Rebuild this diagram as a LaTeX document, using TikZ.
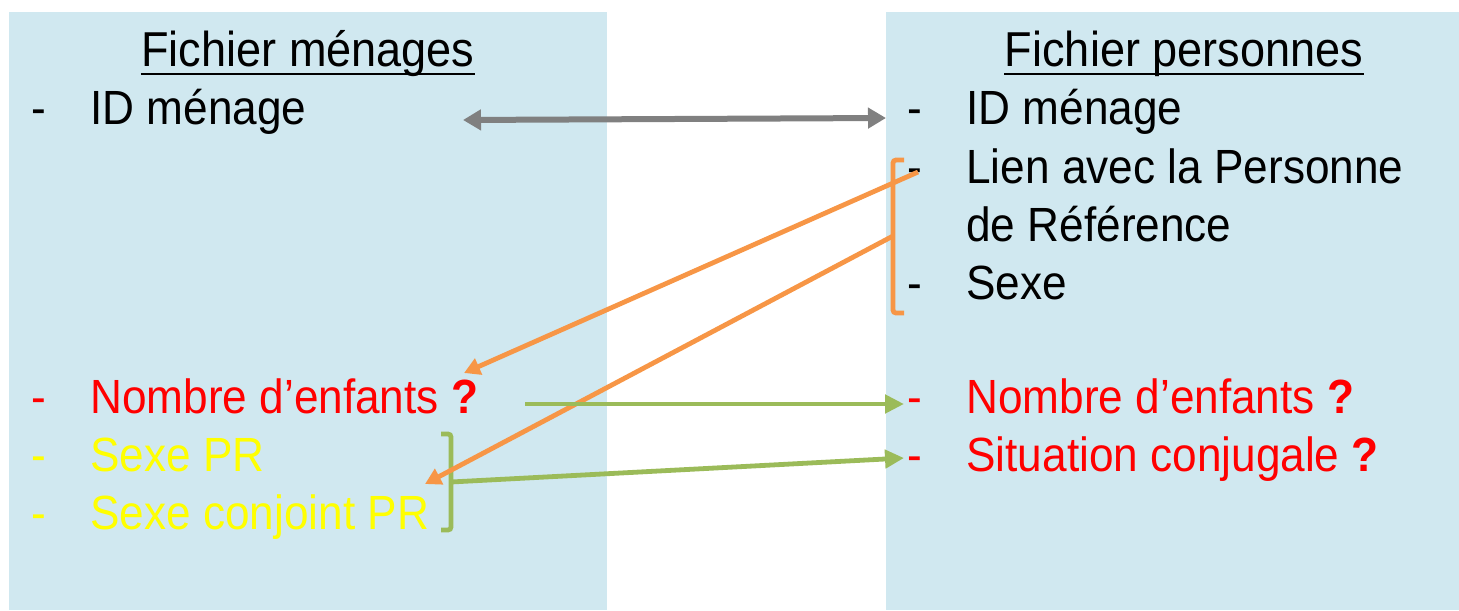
\documentclass[tikz,border=0pt]{standalone}
\usepackage{fontspec}
\setmainfont{Liberation Sans}[FakeStretch=0.92]
\usetikzlibrary{arrows.meta}
\definecolor{panel}{RGB}{208,232,240}
\definecolor{orng}{RGB}{247,150,70}
\definecolor{grn}{RGB}{155,187,89}
\definecolor{gry}{RGB}{128,128,128}
\definecolor{myred}{RGB}{255,0,0}
\definecolor{myyellow}{RGB}{255,255,0}
\begin{document}
\begin{tikzpicture}[x=0.5pt,y=-0.5pt,
  txt/.style={anchor=base west,inner sep=0pt,font=\fontsize{24}{28}\selectfont},
  ttl/.style={anchor=base,inner sep=0pt,font=\fontsize{24.5}{28}\selectfont},
  grayarrow/.style={gry,line width=3pt,{Triangle[length=9pt,width=10pt]}-{Triangle[length=9pt,width=10pt]}},
  orangearrow/.style={orng,line width=2.4pt,-{Triangle[length=8pt,width=8.5pt]}},
  greenarrow/.style={grn,line width=2.4pt,-{Triangle[length=9.5pt,width=9pt]}},
  brack/.style={line width=2.4pt,rounded corners=1.5pt}]
\useasboundingbox (0,0) rectangle (1459,610);
\fill[panel] (9,12) rectangle (607,610);
\fill[panel] (886,12) rectangle (1459,610);

% titles
\node[ttl] (tL) at (308,67) {Fichier ménages};
\node[ttl] (tR) at (1184,67) {Fichier personnes};
\draw[line width=1pt] ([yshift=-3.5pt]tL.base west) -- ([yshift=-3.5pt]tL.base east);
\draw[line width=1pt] ([yshift=-3.5pt]tR.base west) -- ([yshift=-3.5pt]tR.base east);

% left column
\node[txt] (dL1) at (31,125) {-};
\node[txt] (idL) at (90,125) {ID ménage};
\node[txt,myred] (dL2) at (31,413) {-};
\node[txt,myred] (nbL) at (90,413) {Nombre d’enfants {\bfseries ?}};
\node[txt,myyellow] (dL3) at (31,471) {-};
\node[txt,myyellow] (sxL) at (90,471) {Sexe PR};
\node[txt,myyellow] (dL4) at (31,529) {-};
\node[txt,myyellow] (scL) at (90,529) {Sexe conjoint PR};

% right column
\node[txt] (dR1) at (907,125) {-};
\node[txt] (idR) at (966,125) {ID ménage};
\node[txt] (dR2) at (907,183) {-};
\node[txt] (lnR) at (966,183) {Lien avec la Personne};
\node[txt] (rfR) at (966,241) {de Référence};
\node[txt] (dR3) at (907,299) {-};
\node[txt] (sxR) at (966,299) {Sexe};
\node[txt,myred] (dR4) at (907,413) {-};
\node[txt,myred] (nbR) at (966,413) {Nombre d’enfants {\bfseries ?}};
\node[txt,myred] (dR5) at (907,471) {-};
\node[txt,myred] (sitR) at (966,471) {Situation conjugale {\bfseries ?}};

% brackets
\draw[orng,brack] (904,160) -- (893,160) -- (893,313) -- (904,313);
\draw[grn,brack] (441,434) -- (451,434) -- (451,530) -- (441,530);

% connector points
\coordinate (gA) at (463,120);
\coordinate (gB) at (886,118);
\coordinate (o1s) at (918,172);
\coordinate (o1e) at (464,373);
\coordinate (o2s) at (893,236);
\coordinate (o2e) at (425,484);
\coordinate (g1s) at (525,404);
\coordinate (g1e) at (904,404);
\coordinate (g2s) at (451,482);
\coordinate (g2e) at (904,458);

\draw[grayarrow] (gA) -- (gB);
\draw[orangearrow] (o1s) -- (o1e);
\draw[orangearrow] (o2s) -- (o2e);
\draw[greenarrow] (g1s) -- (g1e);
\draw[greenarrow] (g2s) -- (g2e);
\end{tikzpicture}
\end{document}
